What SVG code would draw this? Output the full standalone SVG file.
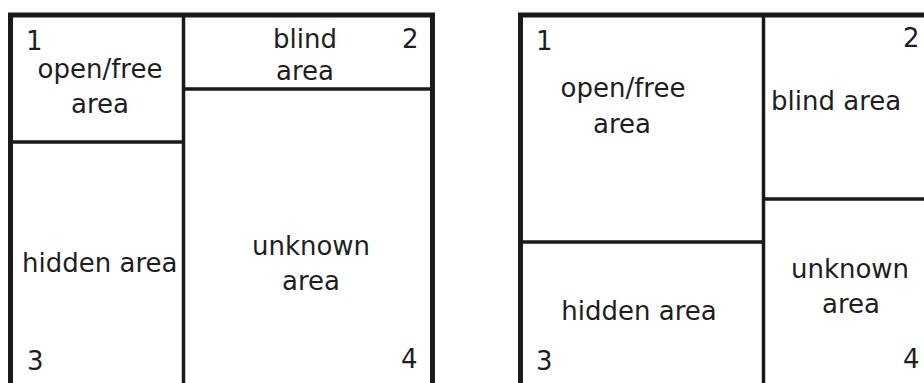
<svg xmlns="http://www.w3.org/2000/svg" width="924" height="383" viewBox="0 0 924 383">
<style>
.frame{stroke:#1a1a1a;stroke-width:5;fill:none}
.div{stroke:#1a1a1a;stroke-width:3.5;fill:none}
text{font-family:"DejaVu Sans","Liberation Sans",sans-serif;font-size:26px;fill:#1e1e1e}
.m{text-anchor:middle}
</style>
<rect width="924" height="383" fill="#ffffff"/>
<g id="left-window">
<path class="frame" d="M10.5,385 V15 H432.5 V385"/>
<g id="left-dividers">
<line class="div" x1="183.5" y1="15" x2="183.5" y2="385"/>
<line class="div" x1="10.5" y1="142" x2="183.5" y2="142"/>
<line class="div" x1="183.5" y1="89" x2="432.5" y2="89"/>
</g>
<g id="L1"><text x="26" y="50">1</text><text class="m" x="100" y="78">open/free</text><text class="m" x="100" y="113">area</text></g>
<g id="L2"><text class="m" x="305" y="48">blind</text><text class="m" x="305" y="80">area</text><text x="402" y="48">2</text></g>
<g id="L3"><text x="22" y="272">hidden area</text><text x="27" y="370">3</text></g>
<g id="L4"><text class="m" x="311" y="255">unknown</text><text class="m" x="311" y="290">area</text><text x="401" y="368">4</text></g>
</g>
<g id="right-window">
<path class="frame" d="M520.5,385 V15 H926"/>
<g id="right-dividers">
<line class="div" x1="763.5" y1="15" x2="763.5" y2="385"/>
<line class="div" x1="520.5" y1="242" x2="763.5" y2="242"/>
<line class="div" x1="763.5" y1="199" x2="926" y2="199"/>
</g>
<g id="R1"><text x="536" y="50">1</text><text class="m" x="623" y="97">open/free</text><text class="m" x="622" y="133">area</text></g>
<g id="R2"><text x="903" y="47">2</text><text x="771" y="110">blind area</text></g>
<g id="R3"><text class="m" x="639" y="320">hidden area</text><text x="536" y="370">3</text></g>
<g id="R4"><text class="m" x="850" y="278">unknown</text><text class="m" x="851" y="313">area</text><text x="903" y="368">4</text></g>
</g>
</svg>
